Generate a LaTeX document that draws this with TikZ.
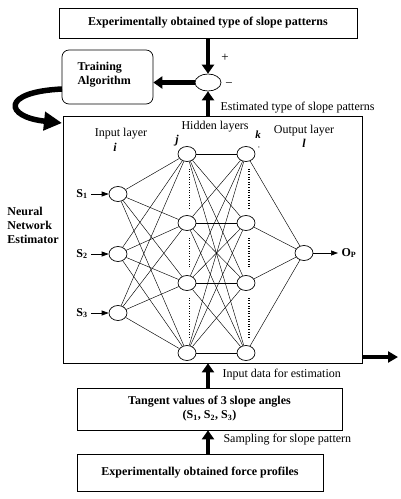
\documentclass[tikz,border=0pt]{standalone}
\usepackage{fontspec}
\setmainfont{Liberation Serif}
\usetikzlibrary{shapes.geometric,arrows.meta,backgrounds}
\begin{document}
\begin{tikzpicture}[x=1pt,y=-1pt,
  box/.style={draw, line width=0.7pt, inner sep=0pt},
  neuron/.style={draw, ellipse, minimum width=18pt, minimum height=15pt, inner sep=0pt, line width=0.7pt, fill=white},
  bigarrow/.style={line width=4.5pt, -{Triangle[length=9pt,width=12pt]}},
  thinarrow/.style={line width=0.7pt, -{Triangle[length=7pt,width=5pt]}},
  link/.style={line width=0.45pt},
  dots/.style={line width=1.4pt, dash pattern=on 1pt off 1.6pt},
  bold/.style={font=\fontsize{12}{14}\selectfont\bfseries},
  plain/.style={font=\fontsize{12}{14}\selectfont},
  var/.style={font=\fontsize{12}{12}\selectfont\bfseries\itshape, inner sep=0pt},
]
\useasboundingbox (0,0) rectangle (401,499);

% top box
\node[box, minimum width=298pt, minimum height=30pt, bold] (top) at (208,23) {Experimentally obtained type of slope patterns};
% summing junction
\node[draw, ellipse, minimum width=26pt, minimum height=17pt, inner sep=0pt, line width=0.7pt] (sum) at (208,82.5) {};
\node[plain, font=\fontsize{13}{14}\selectfont] (plus) at (225,58) {+};
\node[plain, font=\fontsize{13}{14}\selectfont] (minus) at (229,85) {\textminus};
% training box
\node[box, rounded corners=7pt, minimum width=91pt, minimum height=54pt] (train) at (107.5,77) {};
\node[bold, anchor=west, align=left] (traintxt) at (74,75) {Training\\Algorithm};
% NN box
\node[box, minimum width=299pt, minimum height=247pt] (nn) at (212.5,239.5) {};
\node[bold, align=left] (nnlabel) at (33,225) {Neural\\Network\\Estimator};

% arrows top
\draw[bigarrow] (top.south -| sum) -- (sum.north);
\draw[bigarrow] (nn.north -| sum) -- (sum.south);
\draw[bigarrow] (sum.west) -- (train.east |- sum.west);
\node[plain, anchor=west] (est) at (217,108) {Estimated type of slope patterns};
% curved feedback arrow
\coordinate (cstart) at (62,89);
\coordinate (cend) at (62,123);
\draw[line width=5.5pt, -{Triangle[length=18pt,width=18pt]}] (cstart) .. controls (0,92) and (5,117) .. (cend);

% layer labels
\node[plain] (inlab) at (121,134) {Input layer};
\node[var] (ilab) at (115,147) {i};
\node[plain] (hidlab) at (215,127) {Hidden layers};
\node[var] (jlab) at (177,141) {j};
\node[var, font=\fontsize{11}{11}\selectfont\bfseries\itshape] (klab) at (258,135) {k};
\node[plain, font=\fontsize{7}{7}\selectfont, inner sep=0pt] (kcomma) at (259,148) {,};
\node[plain] (outlab) at (304,131) {Output layer};
\node[var] (llab) at (304,143) {l};

% neurons
\foreach \n/\y in {1/194,2/254,3/313} \node[neuron] (i\n) at (118,\y) {};
\foreach \n/\y in {1/154,2/223,3/283,4/353} {
  \node[neuron] (j\n) at (187,\y) {};
  \node[neuron] (k\n) at (246,\y) {};
}
\node[neuron] (o) at (304,253) {};

% links
\begin{scope}[on background layer]
\foreach \a in {1,2,3} \foreach \b in {1,2,3,4} \draw[link] (i\a) -- (j\b);
\foreach \a in {1,2,3,4} \foreach \b in {1,2,3,4} \draw[link] (j\a) -- (k\b);
\foreach \a in {1,2,3,4} \draw[link] (k\a) -- (o);
\end{scope}

% dotted lines
\foreach \a/\b in {1/2,2/3,3/4} {
  \draw[dots] ([yshift=-7pt]j\a.south -| 189.5,0) -- ([yshift=7pt]j\b.north -| 189.5,0);
  \draw[dots] ([yshift=-7pt]k\a.south -| 249,0) -- ([yshift=7pt]k\b.north -| 249,0);
}

% inputs
\foreach \n in {1,2,3} {
  \node[bold] (s\n) at (82,0 |- i\n) {S\textsubscript{\n}};
  \draw[thinarrow] (s\n.east) -- (i\n.west);
}
\node[bold, anchor=west] (op) at (338,253) {O\textsubscript{P}};
\draw[thinarrow] (o.east) -- (op.west);

% right output arrow
\coordinate (rout) at (398,357);
\draw[line width=4.5pt, -{Triangle[length=10pt,width=11pt]}] (nn.east |- rout) -- (rout);

% lower boxes
\node[box, minimum width=265pt, minimum height=42pt, bold, align=center] (tan) at (209.5,409) {Tangent values of 3 slope angles\\(S\textsubscript{1}, S\textsubscript{2}, S\textsubscript{3})};
\node[box, minimum width=246pt, minimum height=37pt, bold] (force) at (200,472.5) {Experimentally obtained force profiles};
\draw[bigarrow] (tan.north -| sum) -- (nn.south -| sum);
\draw[bigarrow] (force.north -| sum) -- (tan.south -| sum);
\node[plain, anchor=west] (inpd) at (219,375) {Input data for estimation};
\node[plain, anchor=west] (samp) at (220,440) {Sampling for slope pattern};
\end{tikzpicture}
\end{document}
